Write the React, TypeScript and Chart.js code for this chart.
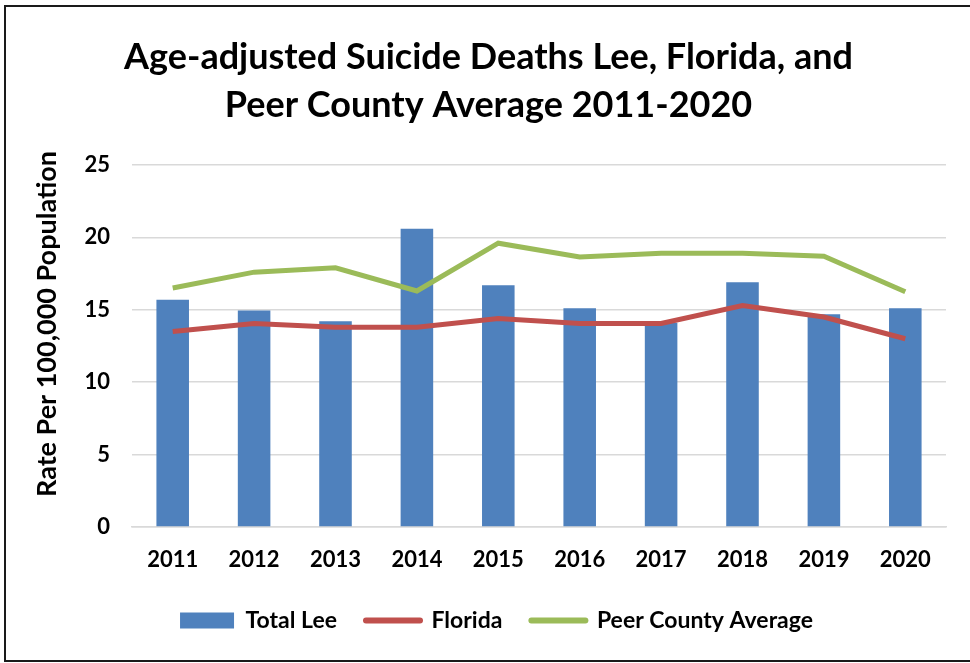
import React, { useEffect, useRef } from "react";
import { Chart, registerables } from "chart.js";

Chart.register(...registerables);

const years = ["2011", "2012", "2013", "2014", "2015", "2016", "2017", "2018", "2019", "2020"];
const totalLee = [15.7, 14.95, 14.2, 20.6, 16.7, 15.1, 14.1, 16.9, 14.7, 15.1];
const florida = [13.5, 14.05, 13.8, 13.8, 14.4, 14.05, 14.05, 15.3, 14.5, 13.0];
const peerAverage = [16.5, 17.6, 17.9, 16.3, 19.6, 18.65, 18.9, 18.9, 18.7, 16.25];
const titleLines = ["Age-adjusted Suicide Deaths Lee, Florida, and", "Peer County Average 2011-2020"];
const yAxisTitle = "Rate Per 100,000 Population";

const FONT = "Lato, 'Open Sans', sans-serif";

const yTitlePlugin = {
  id: "yTitle",
  afterLayout(chart: any) {
    if (chart.legend) {
      chart.legend.left += 8;
      chart.legend.right += 8;
    }
  },
  afterDraw(chart: any) {
    const { ctx, chartArea } = chart;
    ctx.save();
    ctx.font = `bold 27px ${FONT}`;
    ctx.fillStyle = "#000";
    ctx.textAlign = "center";
    ctx.textBaseline = "middle";
    ctx.translate(47, (chartArea.top + chartArea.bottom) / 2 - 22);
    ctx.rotate(-Math.PI / 2);
    ctx.fillText(yAxisTitle, 0, 0);
    ctx.restore();
  },
};

export default function App() {
  const ref = useRef<HTMLCanvasElement | null>(null);
  useEffect(() => {
    if (!ref.current) return;
    const chart = new Chart(ref.current, {
      type: "bar",
      data: {
        labels: years,
        datasets: [
          {
            type: "bar",
            label: "Total Lee",
            data: totalLee,
            backgroundColor: "#4F81BD",
            borderWidth: 0,
            barPercentage: 0.4,
            categoryPercentage: 1,
            order: 2,
          },
          {
            type: "line",
            label: "Florida",
            data: florida,
            borderColor: "#C0504D",
            backgroundColor: "#C0504D",
            borderWidth: 5,
            pointRadius: 0,
            tension: 0,
            order: 1,
          },
          {
            type: "line",
            label: "Peer County Average",
            data: peerAverage,
            borderColor: "#9BBB59",
            backgroundColor: "#9BBB59",
            borderWidth: 5,
            pointRadius: 0,
            tension: 0,
            order: 0,
          },
        ],
      },
      plugins: [yTitlePlugin],
      options: {
        responsive: false,
        animation: false,
        layout: { padding: { left: 31, right: 24, top: 33, bottom: 21 } },
        plugins: {
          title: {
            display: true,
            text: titleLines,
            color: "#000",
            font: { family: FONT, size: 36, weight: "bold", lineHeight: 1.333 },
            padding: { top: 0, bottom: 36 },
          },
          legend: {
            position: "bottom",
            labels: {
              color: "#000",
              font: { family: FONT, size: 23, weight: "bold" },
              usePointStyle: true,
              pointStyleWidth: 54,
              boxHeight: 16,
              padding: 29,
              generateLabels: (c: any) =>
                c.data.datasets.map((ds: any, i: number) => ({
                  text: ds.label,
                  fillStyle: ds.type === "bar" ? ds.backgroundColor : ds.borderColor,
                  strokeStyle: ds.type === "bar" ? ds.backgroundColor : ds.borderColor,
                  lineWidth: ds.type === "bar" ? 0 : 6,
                  lineCap: "round",
                  pointStyle: ds.type === "bar" ? "rect" : "line",
                  hidden: false,
                  datasetIndex: i,
                  fontColor: "#000",
                })),
            },
          },
          tooltip: { enabled: false },
        },
        scales: {
          x: {
            grid: { display: false },
            border: { display: true, color: "#D9D9D9", width: 1.5 },
            ticks: { color: "#000", font: { family: FONT, size: 22, weight: "bold" }, padding: 12 },
            afterFit: (s: any) => {
              s.height = 53;
            },
          },
          y: {
            min: 0,
            max: 25,
            ticks: { stepSize: 5, color: "#000", font: { family: FONT, size: 22, weight: "bold" }, padding: 22 },
            grid: { color: "#D9D9D9", lineWidth: 1.5, drawTicks: false },
            border: { display: false },
            afterFit: (s: any) => {
              s.width = 101;
            },
          },
        },
      },
    });
    return () => chart.destroy();
  }, []);
  return (
    <div style={{ position: "absolute", left: 0, top: 0, width: 970, height: 663, background: "#fff", overflow: "hidden" }}>
      <div
        style={{
          position: "absolute",
          left: 4,
          top: 5,
          width: 990,
          height: 653,
          border: "2px solid #1a1a1a",
        }}
      />
      <canvas ref={ref} width={970} height={663} style={{ position: "absolute", left: 0, top: 0 }} />
    </div>
  );
}
